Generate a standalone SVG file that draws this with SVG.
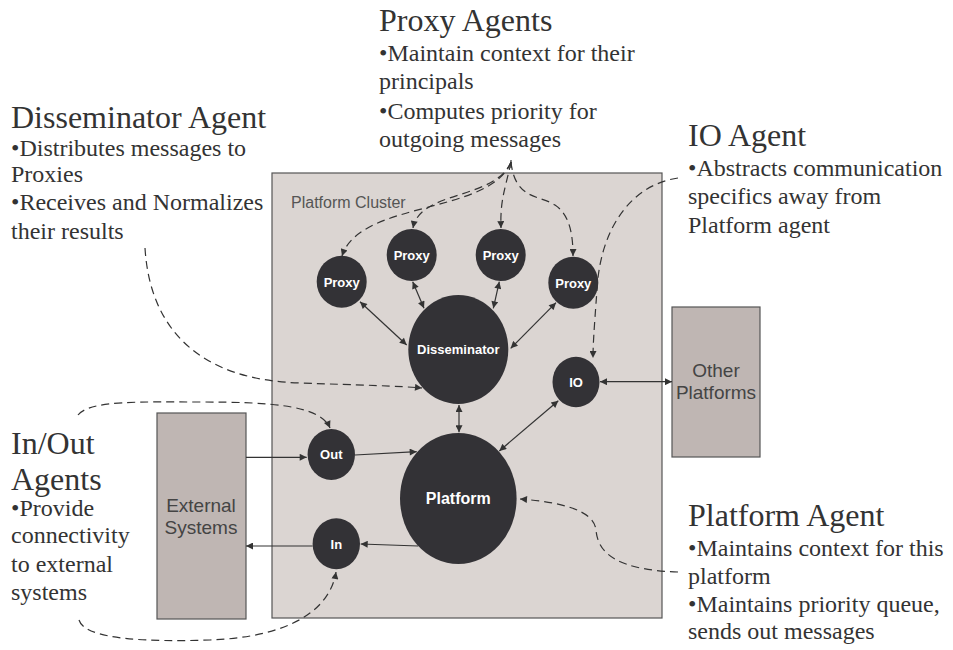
<svg xmlns="http://www.w3.org/2000/svg" width="953" height="650" viewBox="0 0 953 650">
<defs>
<marker id="ah" viewBox="0 0 10 10" refX="10" refY="5" markerWidth="9" markerHeight="7" markerUnits="userSpaceOnUse" orient="auto-start-reverse"><path d="M0,0 L10,5 L0,10 z" fill="#333"/></marker>
</defs>
<style>
.t{font-family:"Liberation Serif","Times New Roman",serif;fill:#333}
.h{font-size:32px}
.b{font-size:24px}
.n{fill:#333236}
.nl{font-family:"Liberation Sans",Arial,sans-serif;font-weight:bold;font-size:13px;fill:#fff;text-anchor:middle}
.box{fill:#bfb6b3;stroke:#555;stroke-width:1.2}
.bl{font-family:"Liberation Sans",Arial,sans-serif;font-size:19px;fill:#444;text-anchor:middle}
.s{fill:none;stroke:#333;stroke-width:1.2}
.d{fill:none;stroke:#333;stroke-width:1.2;stroke-dasharray:8,5}
</style>
<rect width="953" height="650" fill="#fff"/>

<g id="cluster">
<rect x="272" y="173" width="390" height="445" fill="#dbd5d2" stroke="#555" stroke-width="1.2"/>
<text x="291" y="208" font-family="Liberation Sans,Arial,sans-serif" font-size="16" fill="#555">Platform Cluster</text>
</g>

<g id="external">
<rect class="box" x="157" y="413" width="89" height="206"/>
<text class="bl" x="201" y="512">External</text>
<text class="bl" x="201" y="534">Systems</text>
</g>
<g id="other">
<rect class="box" x="672" y="307" width="88" height="150"/>
<text class="bl" x="716" y="377">Other</text>
<text class="bl" x="716" y="399">Platforms</text>
</g>

<g id="connectors">
<path class="s" d="M360,301.7 L406.7,345" marker-start="url(#ah)" marker-end="url(#ah)"/>
<path class="s" d="M412.7,281.7 L424,308.3" marker-start="url(#ah)" marker-end="url(#ah)"/>
<path class="s" d="M499.3,281.7 L493.3,308.3" marker-start="url(#ah)" marker-end="url(#ah)"/>
<path class="s" d="M556,302.7 L510.7,348.3" marker-start="url(#ah)" marker-end="url(#ah)"/>
<path class="s" d="M600,381.7 L672,381.7" marker-start="url(#ah)" marker-end="url(#ah)"/>
<path class="s" d="M459,405 L459,432.3" marker-start="url(#ah)" marker-end="url(#ah)"/>
<path class="s" d="M558.3,400.7 L499.3,451" marker-start="url(#ah)" marker-end="url(#ah)"/>
<path class="s" d="M246,457.3 L306.7,457.3" marker-end="url(#ah)"/>
<path class="s" d="M355,455 L416.7,451.7" marker-end="url(#ah)"/>
<path class="s" d="M418.3,546 L360.7,544" marker-end="url(#ah)"/>
<path class="s" d="M312.7,546 L246,546" marker-end="url(#ah)"/>

<path class="d" d="M511,162 C 490,215 360,200 342,256" marker-end="url(#ah)"/>
<path class="d" d="M511,162 C 495,200 420,190 413,228" marker-end="url(#ah)"/>
<path class="d" d="M511,162 C 505,190 500,200 501,228" marker-end="url(#ah)"/>
<path class="d" d="M511,162 C 515,200 540,195 555,205 C 570,215 573,235 573,256" marker-end="url(#ah)"/>
<path class="s" d="M511,160 L511,168"/>
<path class="d" d="M678,178 C 630,185 600,230 597,290 C 594,330 593,345 593,358" marker-end="url(#ah)"/>
<path class="d" d="M145,248 C 150,330 200,380 300,383 C 360,385 400,386 422,388" marker-end="url(#ah)"/>
<path class="d" d="M78,415 C 90,400 140,402 200,402 C 270,402 320,405 330,428" marker-end="url(#ah)"/>
<path class="d" d="M79,620 C 85,640 150,642 210,640 C 290,637 330,610 336,572" marker-end="url(#ah)"/>
<path class="d" d="M678,572 C 620,570 598,555 596,530 C 594,510 560,502 520,499" marker-end="url(#ah)"/>
</g>

<g id="proxy1"><ellipse class="n" cx="341.7" cy="281.7" rx="25" ry="26"/><text class="nl" x="341.7" y="286.5">Proxy</text></g>
<g id="proxy2"><ellipse class="n" cx="411.7" cy="255" rx="25" ry="26"/><text class="nl" x="411.7" y="259.8">Proxy</text></g>
<g id="proxy3"><ellipse class="n" cx="500.7" cy="255" rx="25" ry="26"/><text class="nl" x="500.7" y="259.8">Proxy</text></g>
<g id="proxy4"><ellipse class="n" cx="573.3" cy="282.7" rx="25" ry="26"/><text class="nl" x="573.3" y="287.5">Proxy</text></g>
<g id="disseminator"><ellipse class="n" cx="458.3" cy="349.5" rx="50" ry="54.5"/><text class="nl" x="458.3" y="354.3">Disseminator</text></g>
<g id="io"><ellipse class="n" cx="576" cy="382" rx="23.5" ry="25.3"/><text class="nl" x="576" y="386.8">IO</text></g>
<g id="platform"><ellipse class="n" cx="458.3" cy="498.5" rx="58.3" ry="65.5"/><text class="nl" x="458.3" y="504" style="font-size:16px">Platform</text></g>
<g id="out"><ellipse class="n" cx="331.3" cy="454.5" rx="23.7" ry="25.5"/><text class="nl" x="331.3" y="459.3">Out</text></g>
<g id="in"><ellipse class="n" cx="336.3" cy="543.8" rx="23.7" ry="25.5"/><text class="nl" x="336.3" y="548.6">In</text></g>

<g id="proxy-agents-label" class="t">
<text class="h" x="379" y="31">Proxy Agents</text>
<text class="b" x="379" y="61">•Maintain context for their</text>
<text class="b" x="379" y="89">principals</text>
<text class="b" x="379" y="119">•Computes priority for</text>
<text class="b" x="379" y="147">outgoing messages</text>
</g>
<g id="disseminator-agent-label" class="t">
<text class="h" x="11" y="128">Disseminator Agent</text>
<text class="b" x="11" y="156">•Distributes messages to</text>
<text class="b" x="11" y="182">Proxies</text>
<text class="b" x="11" y="210">•Receives and Normalizes</text>
<text class="b" x="11" y="239">their results</text>
</g>
<g id="io-agent-label" class="t">
<text class="h" x="688" y="146">IO Agent</text>
<text class="b" x="688" y="176">•Abstracts communication</text>
<text class="b" x="688" y="204">specifics away from</text>
<text class="b" x="688" y="233">Platform agent</text>
</g>
<g id="platform-agent-label" class="t">
<text class="h" x="688" y="526">Platform Agent</text>
<text class="b" x="688" y="556">•Maintains context for this</text>
<text class="b" x="688" y="584">platform</text>
<text class="b" x="688" y="612">•Maintains priority queue,</text>
<text class="b" x="688" y="639">sends out messages</text>
</g>
<g id="inout-agents-label" class="t">
<text class="h" x="11" y="454">In/Out</text>
<text class="h" x="11" y="490">Agents</text>
<text class="b" x="11" y="516">•Provide</text>
<text class="b" x="11" y="543">connectivity</text>
<text class="b" x="11" y="572">to external</text>
<text class="b" x="11" y="600">systems</text>
</g>
</svg>
